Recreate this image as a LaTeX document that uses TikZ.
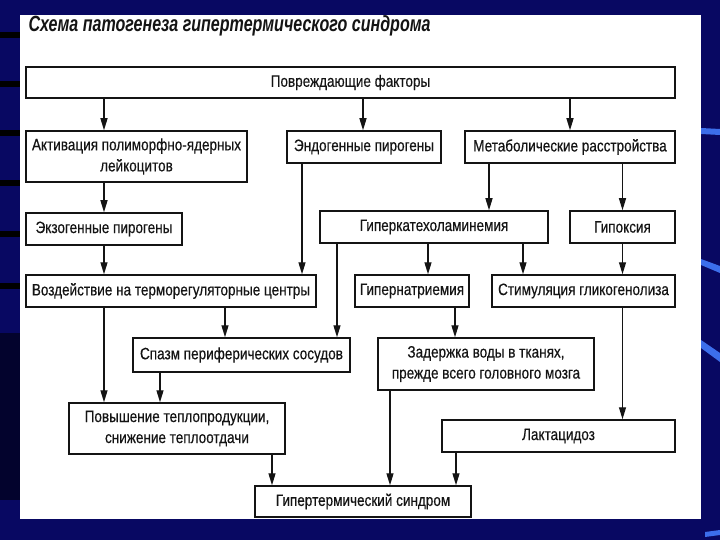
\documentclass[tikz,border=0pt]{standalone}
\usepackage{fontspec}
\setmainfont{Liberation Sans}[FakeStretch=0.82, FakeBold=0.4]
\newfontfamily\titlefont{Liberation Sans}[FakeStretch=0.73]
\usetikzlibrary{arrows.meta}
\definecolor{slide}{RGB}{8,8,98}
\definecolor{slidedark}{RGB}{3,3,45}
\definecolor{streak}{RGB}{60,110,235}
\definecolor{ink}{RGB}{20,20,20}
\tikzset{
  box/.style={draw=ink, line width=1.5pt, fill=white, inner sep=0pt, align=center,
    font=\fontsize{16.5}{21}\selectfont, text=ink},
  arr/.style={draw=ink, line width=1.3pt, -{Triangle[length=12pt,width=7pt]}},
}
\begin{document}
\begin{tikzpicture}[x=1pt, y=-1pt]
            \useasboundingbox (0,0) rectangle (720,540);

            % slide background
            \fill[slide] (0,0) rectangle (720,540);
            \fill[slidedark] (0,333) rectangle (20,500);
            \fill[black] (0,32) rectangle (20,38);
            \fill[black] (0,81) rectangle (20,87);
            \fill[black] (0,130) rectangle (20,136);
            \fill[black] (0,180) rectangle (20,186);
            \fill[black] (0,231) rectangle (20,237);
            \fill[black] (0,283) rectangle (20,289);
            \fill[streak] (701,128) -- (720,129) -- (720,135) -- (701,134) -- cycle;
            \fill[streak] (701,259) -- (720,266) -- (720,273) -- (701,265) -- cycle;
            \fill[streak] (701,340) -- (720,353) -- (720,362) -- (701,348) -- cycle;
            \fill[streak] (705,532) -- (720,530) -- (720,535) -- (705,537) -- cycle;
            \fill[white] (20,15) rectangle (701,519);

            \node[anchor=west, text=ink, font=\titlefont\bfseries\itshape\fontsize{22}{26}\selectfont]
                (title) at (25,26) {Схема патогенеза гипертермического синдрома};

            % boxes
            \node[box, minimum width=649, minimum height=31] (povr)   at (350.5, 82.5) {Повреждающие факторы};
            \node[box, minimum width=221, minimum height=51] (akt)    at (136.5,156.5) {Активация полиморфно-ядерных\\лейкоцитов};
            \node[box, minimum width=154, minimum height=32] (endo)   at (364  ,147  ) {Эндогенные пирогены};
            \node[box, minimum width=210, minimum height=32] (metab)  at (570  ,147  ) {Метаболические расстройства};
            \node[box, minimum width=156, minimum height=32] (exo)    at (104  ,229  ) {Экзогенные пирогены};
            \node[box, minimum width=228, minimum height=32] (kat)    at (434  ,227  ) {Гиперкатехоламинемия};
            \node[box, minimum width=105, minimum height=32] (hypox)  at (622.5,227  ) {Гипоксия};
            \node[box, minimum width=290, minimum height=32] (vozd)   at (171  ,291  ) {Воздействие на терморегуляторные центры};
            \node[box, minimum width=114, minimum height=32] (natr)   at (412  ,291  ) {Гипернатриемия};
            \node[box, minimum width=183, minimum height=32] (glik)   at (583.5,291  ) {Стимуляция гликогенолиза};
            \node[box, minimum width=217, minimum height=34] (spazm)  at (241.5,355  ) {Спазм периферических сосудов};
            \node[box, minimum width=216, minimum height=52] (zader)  at (486  ,364  ) {Задержка воды в тканях,\\прежде всего головного мозга};
            \node[box, minimum width=216, minimum height=51] (pov)    at (177  ,428.5) {Повышение теплопродукции,\\снижение теплоотдачи};
            \node[box, minimum width=233, minimum height=32] (lakt)   at (558.5,436  ) {Лактацидоз};
            \node[box, minimum width=216, minimum height=31] (synd)   at (363  ,501.5) {Гипертермический синдром};

            % arrows
            \draw[arr] (povr.south -| 104,0) -- (akt.north -| 104,0);
            \draw[arr] (povr.south -| 363,0) -- (endo.north -| 363,0);
            \draw[arr] (povr.south -| 570,0) -- (metab.north -| 570,0);
            \draw[arr] (akt.south -| 104,0) -- (exo.north);
            \draw[arr] (exo.south) -- (vozd.north -| 104,0);
            \draw[arr] (endo.south -| 302,0) -- (vozd.north -| 302,0);
            \draw[arr] (metab.south -| 489,0) -- (kat.north -| 489,0);
            \draw[arr] (metab.south -| 622.5,0) -- (hypox.north);
            \draw[arr] (kat.south -| 428,0) -- (natr.north -| 428,0);
            \draw[arr] (kat.south -| 523,0) -- (glik.north -| 523,0);
            \draw[arr] (kat.south -| 337,0) -- (spazm.north -| 337,0);
            \draw[arr] (hypox.south) -- (glik.north -| hypox.south);
            \draw[arr] (vozd.south -| 225,0) -- (spazm.north -| 225,0);
            \draw[arr] (vozd.south -| 104,0) -- (pov.north -| 104,0);
            \draw[arr] (spazm.south -| 160,0) -- (pov.north -| 160,0);
            \draw[arr] (natr.south -| 455,0) -- (zader.north -| 455,0);
            \draw[arr] (glik.south -| 622.5,0) -- (lakt.north -| 622.5,0);
            \draw[arr] (pov.south -| 272,0) -- (synd.north -| 272,0);
            \draw[arr] (zader.south -| 390,0) -- (synd.north -| 390,0);
            \draw[arr] (lakt.south -| 456,0) -- (synd.north -| 456,0);

        \end{tikzpicture}
\end{document}
